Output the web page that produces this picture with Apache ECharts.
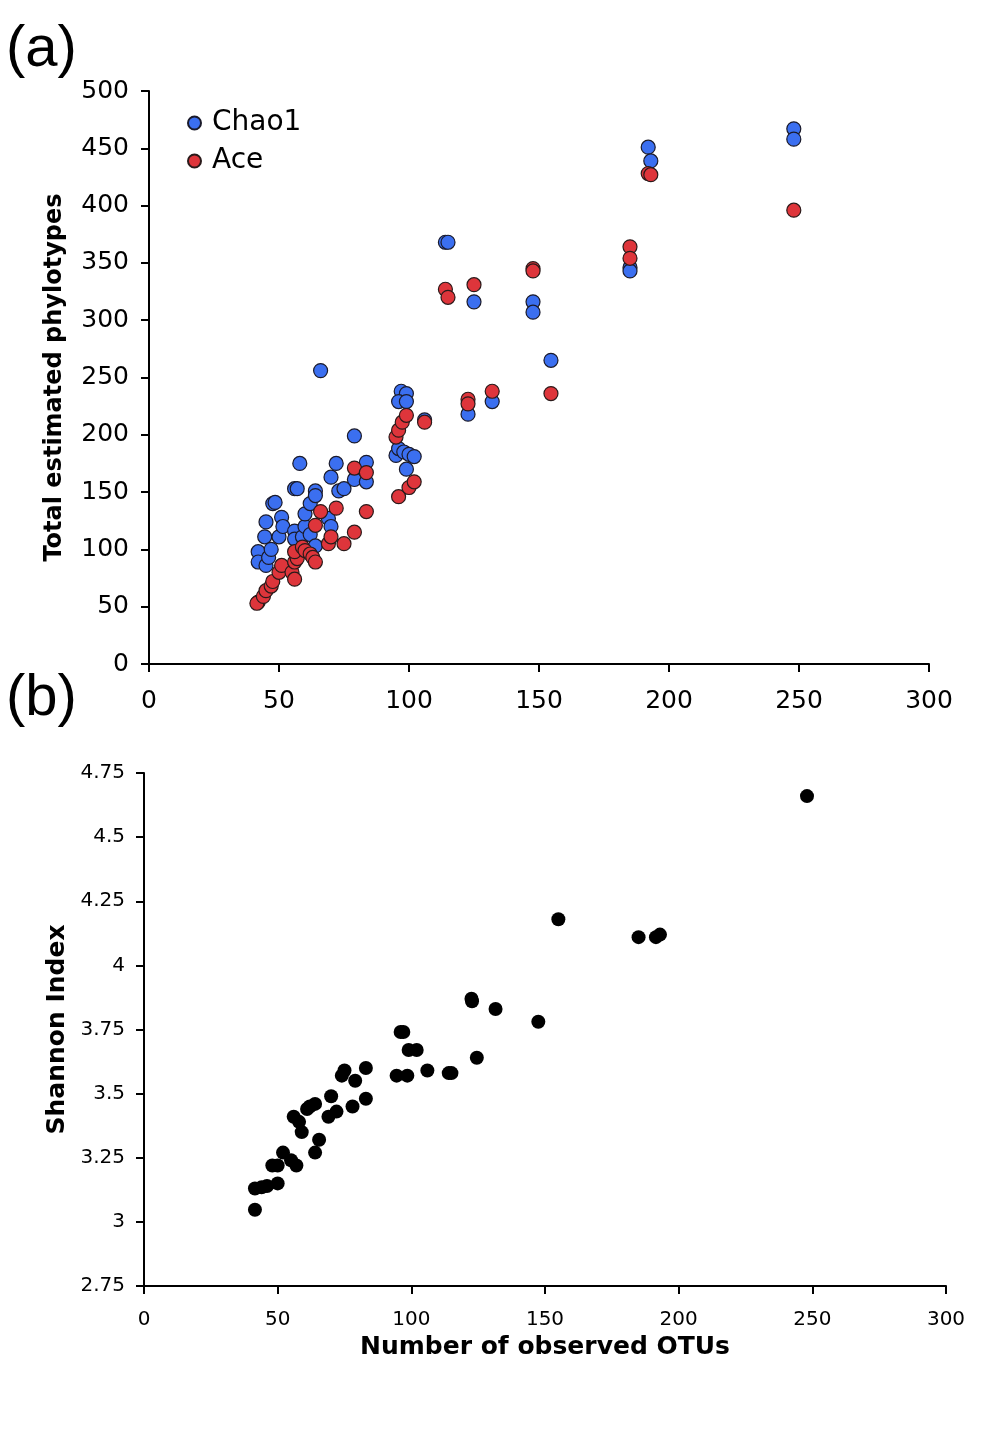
<!DOCTYPE html>
<html>
<head>
<meta charset="utf-8">
<script src="https://cdn.jsdelivr.net/npm/echarts@6/dist/echarts.min.js"></script>
<style>
html,body{margin:0;padding:0;background:#fff;}
#chart{width:1004px;height:1439px;}
</style>
</head>
<body>
<div id="chart"></div>
<script>
// Panel (a): [observed OTUs, Chao1 estimate]
var chao1Points = [
  [42,98],[42,89],[44.5,111],[45,86],[46,93],[45,124],[47,100],[47.6,140],[48.5,141],[50,111],
  [51,128],[51.5,120],[56,116],[56,109],[56,153],[57,153],[58,175],[59,111],[60,120],[60,131],
  [62,113],[62,140],[64,151],[64,147],[64,103],[66,256],[69,127],[70,120],[70,163],[72,175],
  [73,151],[75,153],[79,161],[79,199],[83.6,176],[83.6,159],[95,182],[96,188],[98,185],[100,183],
  [102,181],[99,170],[97,238],[99,236],[96,229],[99,229],[106,213],[114,368],[115,368],[125,316],
  [147.7,316],[147.7,307],[154.6,265],[122.7,218],[132,229],[185,346],[185,343],[192,451],[193,439],
  [248,467],[248,458]
];
// Panel (a): [observed OTUs, ACE estimate]
var acePoints = [
  [42,54],[41.5,53],[44,59],[45,64],[47,68],[47.6,72],[50,80],[51,86],[55,80],[56,74],
  [56,89],[57,92],[56,98],[59,102],[60,99],[62,96],[63,93],[64,89],[64,121],[66,133],
  [69,105],[70,111],[72,136],[75,105],[79,115],[79,171],[83.6,167],[83.6,133],[95,198],[96,204],
  [97.4,211],[99,217],[106,211],[96,146],[100,154],[102,159],[114,327],[115,320],[125,331],[122.7,231],
  [122.7,227],[132,238],[147.7,345],[147.7,343],[154.6,236],[185,364],[185,354],[192,428],[193,427],
  [248,396]
];
// Panel (b): [observed OTUs, Shannon index]
var shannonPoints = [
  [41.5,3.047],[41.5,3.13],[44,3.135],[46,3.14],[48,3.22],[50,3.22],[50,3.15],[52,3.27],[55,3.24],[57,3.22],
  [56,3.41],[58,3.39],[59,3.35],[61,3.44],[62,3.45],[64,3.46],[64,3.27],[65.5,3.32],[69,3.41],[70,3.49],
  [72,3.43],[74,3.57],[75,3.59],[79,3.55],[78,3.45],[83,3.60],[83,3.48],[94.5,3.57],[96,3.74],[97,3.74],
  [98.5,3.57],[99,3.67],[102,3.67],[106,3.59],[114,3.58],[115,3.58],[122.5,3.87],[122.7,3.86],[124.5,3.64],
  [131.5,3.83],[147.5,3.78],[155,4.18],[185,4.11],[191.5,4.11],[193,4.12],[248,4.66]
];
var seriesNames = ['Chao1', 'Ace'];
var panelLabels = ['(a)', '(b)'];
var topYName = 'Total estimated phylotypes';
var bottomYName = 'Shannon Index';
var bottomXName = 'Number of observed OTUs';

var FONT = 'DejaVu Sans, Verdana, sans-serif';
var axisCommon = {
  axisLine: {show: true, onZero: false, lineStyle: {color: '#000', width: 2}},
  axisTick: {show: true, inside: false, length: 8, lineStyle: {color: '#000', width: 2}},
  splitLine: {show: false}
};

var chart = echarts.init(document.getElementById('chart'), null, {renderer: 'canvas'});
chart.setOption({
  backgroundColor: '#fff',
  animation: false,
  grid: [
    {left: 149, right: 75, top: 91, height: 573},
    {left: 144, right: 58, top: 773, height: 513}
  ],
  legend: {
    data: seriesNames,
    orient: 'vertical',
    left: 182, top: 104,
    itemWidth: 13, itemHeight: 13, itemGap: 10,
    icon: 'circle',
    textStyle: {fontFamily: FONT, fontSize: 28, color: '#000', padding: [0,0,0,6]}
  },
  xAxis: [
    Object.assign({}, axisCommon, {
      gridIndex: 0, type: 'value', min: 0, max: 300, interval: 50,
      axisLabel: {fontFamily: FONT, fontSize: 25, color: '#000', margin: 25, showMaxLabel: true}
    }),
    Object.assign({}, axisCommon, {
      gridIndex: 1, type: 'value', min: 0, max: 300, interval: 50,
      name: bottomXName, nameLocation: 'middle', nameGap: 49,
      nameTextStyle: {fontFamily: FONT, fontSize: 25, fontWeight: 'bold', color: '#000'},
      axisLabel: {fontFamily: FONT, fontSize: 20, color: '#000', margin: 24, showMaxLabel: true}
    })
  ],
  yAxis: [
    Object.assign({}, axisCommon, {
      gridIndex: 0, type: 'value', min: 0, max: 500, interval: 50,
      name: topYName, nameLocation: 'middle', nameGap: 82, nameRotate: 90,
      nameTextStyle: {fontFamily: FONT, fontSize: 24, fontWeight: 'bold', color: '#000'},
      axisLabel: {fontFamily: FONT, fontSize: 25, color: '#000', margin: 20}
    }),
    Object.assign({}, axisCommon, {
      gridIndex: 1, type: 'value', min: 2.75, max: 4.75, interval: 0.25,
      name: bottomYName, nameLocation: 'middle', nameGap: 70, nameRotate: 90,
      nameTextStyle: {fontFamily: FONT, fontSize: 25, fontWeight: 'bold', color: '#000'},
      axisLabel: {fontFamily: FONT, fontSize: 20, color: '#000', margin: 19}
    })
  ],
  graphic: [
    {type: 'text', left: 6, top: 21, style: {text: panelLabels[0], font: '58px "Liberation Sans", Arial, sans-serif', fill: '#000'}},
    {type: 'text', left: 6, top: 670, style: {text: panelLabels[1], font: '58px "Liberation Sans", Arial, sans-serif', fill: '#000'}}
  ],
  series: [
    {
      name: seriesNames[0], type: 'scatter', xAxisIndex: 0, yAxisIndex: 0,
      data: chao1Points, symbolSize: 14,
      itemStyle: {color: '#3b6ff0', borderColor: '#1a1a2a', borderWidth: 1.2, opacity: 1}
    },
    {
      name: seriesNames[1], type: 'scatter', xAxisIndex: 0, yAxisIndex: 0,
      data: acePoints, symbolSize: 14,
      itemStyle: {color: '#de353b', borderColor: '#2a1a1a', borderWidth: 1.2, opacity: 1}
    },
    {
      name: 'Shannon', type: 'scatter', xAxisIndex: 1, yAxisIndex: 1,
      data: shannonPoints, symbolSize: 14,
      itemStyle: {color: '#000', opacity: 1}
    }
  ]
});
</script>
</body>
</html>
